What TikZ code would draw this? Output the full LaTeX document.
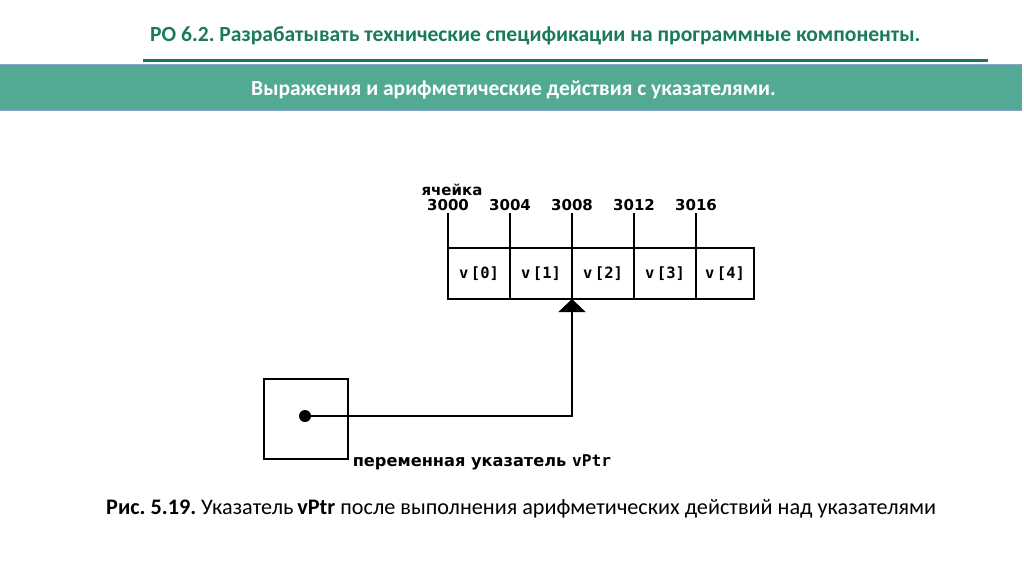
\documentclass[tikz,border=0pt]{standalone}
\usepackage{fontspec}
\usepackage{xcolor}
\usepackage{tikz}
\usetikzlibrary{
  arrows.meta,
  positioning,
  calc
}
\setmainfont{Carlito}
\newfontfamily\figfont{DejaVu Sans}
\newfontfamily\cellfont[BoldFont={DejaVu Sans Mono Bold}]{DejaVu Sans Mono}
\definecolor{roHead}{HTML}{1B7A5C}
\definecolor{roRule}{HTML}{17795A}
\definecolor{roBand}{HTML}{52AA95}
\definecolor{roEdge}{HTML}{86A6CC}
\tikzset{
  headline/.style={font=\fontsize{21.6}{24}\selectfont\bfseries, text=roHead, inner sep=0pt},
  bandtext/.style={font=\fontsize{21.5}{24}\selectfont\bfseries, text=white, inner sep=0pt},
  cell/.style={
    draw, line width=1.2pt, minimum width=62pt, minimum height=51pt,
    inner sep=0pt, outer sep=0pt, font=\cellfont\bfseries\fontsize{15.5}{17}\selectfont
  },
  addr/.style={font=\figfont\bfseries\fontsize{15}{17}\selectfont, inner sep=2pt},
  tick/.style={line width=1.2pt},
  ptrbox/.style={draw, line width=1.2pt, minimum width=84pt, minimum height=80pt},
  ptrdot/.style={circle, fill, inner sep=0pt, minimum size=12pt},
  ptrline/.style={line width=1.2pt, -{Triangle[width=27pt,length=13pt]}},
  varlabel/.style={font=\figfont\bfseries\fontsize{16.2}{18}\selectfont, inner sep=0pt},
  caption/.style={font=\fontsize{22.2}{26}\selectfont, inner sep=0pt}
}
\begin{document}
\frenchspacing
\begin{tikzpicture}[x=1pt, y=-1pt]
  \useasboundingbox (0,0) rectangle (1024,574);

  % heading
  \node[headline, anchor=base west] (head) at (150,41) {РО 6.2. Разрабатывать технические спецификации на программные компоненты.};
  \draw[roRule, line width=3pt] (143,60) -- (988,60);
  \fill[roBand] (0,64) rectangle (1022,110);
  \draw[roEdge, line width=1pt] (0,64) -- (1022,64) (0,110) -- (1022,110);
  \node[bandtext, anchor=base west] (band) at (251,95) {Выражения и арифметические действия с указателями.};

  % array cells
  \node[cell] (c0) at (479,273.5) {v\,[0]};
  \node[cell, right=0pt of c0] (c1) {v\,[1]};
  \node[cell, right=0pt of c1] (c2) {v\,[2]};
  \node[cell, right=0pt of c2] (c3) {v\,[3]};
  \node[cell, right=0pt of c3, minimum width=58pt] (c4) {v\,[4]};

  % addresses
  \node[addr, above=35pt of c0.north west, anchor=south] (a0) {3000};
  \node[addr, above=35pt of c1.north west, anchor=south] (a1) {3004};
  \node[addr, above=35pt of c2.north west, anchor=south] (a2) {3008};
  \node[addr, above=35pt of c3.north west, anchor=south] (a3) {3012};
  \node[addr, above=35pt of c4.north west, anchor=south] (a4) {3016};
  \node[addr, above=1pt of a0, xshift=4pt, inner sep=0pt] (cellname) {ячейка};
  \draw[tick] (c0.north west) -- (a0.south);
  \draw[tick] (c1.north west) -- (a1.south);
  \draw[tick] (c2.north west) -- (a2.south);
  \draw[tick] (c3.north west) -- (a3.south);
  \draw[tick] (c4.north west) -- (a4.south);

  % pointer variable
  \node[ptrbox] (pbox) at (306,419) {};
  \node[ptrdot] (dot) at (305,416) {};
  \draw[ptrline] (dot.center) -| (c2.south west);
  \node[varlabel, anchor=base west] (vname) at ($(pbox.south east)+(4,7)$) {переменная указатель {\cellfont vPtr}};

  % caption
  \node[caption, anchor=base west] (cap) at (106,514) {\textbf{Рис. 5.19.} Указатель\,\textbf{vPtr} после выполнения арифметических действий над указателями};
\end{tikzpicture}
\end{document}
